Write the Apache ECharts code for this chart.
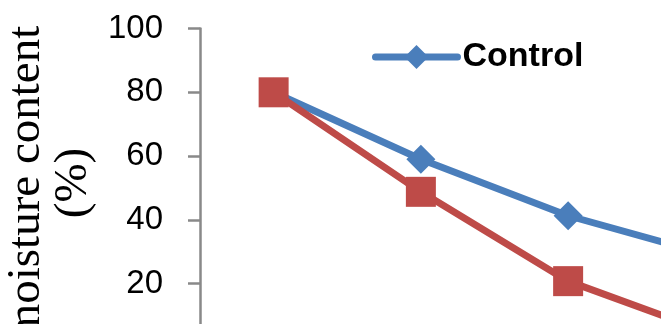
<!DOCTYPE html>
<html>
<head>
<meta charset="utf-8">
<style>
  html, body { margin: 0; padding: 0; background: #ffffff; }
  #chart { width: 661px; height: 324px; }
</style>
<script src="https://cdn.jsdelivr.net/npm/echarts@6/dist/echarts.min.js"></script>
</head>
<body>
<div id="chart"></div>
<script>
// Drying days and moisture content readings
const days = ['0', '1', '2', '3'];
const controlValues = [80, 59, 41.3, 28.4];
const treatedValues = [80, 48.8, 20.8, 4];
const yTicks = [0, 20, 40, 60, 80, 100];

const chart = echarts.init(document.getElementById('chart'), null, { renderer: 'canvas' });

chart.setOption({
  animation: false,
  backgroundColor: '#ffffff',
  grid: {
    left: 200,
    top: 28.5,
    right: -128,
    bottom: -23.5,
    containLabel: false,
    outerBoundsMode: 'none'
  },
  legend: {
    data: ['Control'],
    left: 372,
    top: 40,
    padding: 0,
    itemWidth: 82,
    itemHeight: 30,
    itemGap: 20,
    selectedMode: false,
    lineStyle: { width: 7, cap: 'round' },
    textStyle: {
      fontFamily: 'Liberation Sans, Arial, sans-serif',
      fontWeight: 'bold',
      fontSize: 34,
      color: '#000000'
    }
  },
  xAxis: {
    type: 'category',
    data: days,
    boundaryGap: true,
    axisLine: { show: false },
    axisTick: { show: false },
    axisLabel: { show: false }
  },
  yAxis: {
    type: 'value',
    min: yTicks[0],
    max: yTicks[yTicks.length - 1],
    interval: 20,
    name: 'moisture content\n(%)',
    nameLocation: 'middle',
    nameRotate: 90,
    nameGap: 83,
    nameTextStyle: {
      fontFamily: 'Liberation Serif, Times New Roman, serif',
      fontSize: 47,
      lineHeight: 47,
      color: '#000000',
      align: 'center',
      padding: [0, 0, 0, 10]
    },
    splitLine: { show: false },
    axisLine: { show: true, lineStyle: { color: '#898989', width: 2.5 } },
    axisTick: { show: true, inside: false, length: 12, lineStyle: { color: '#898989', width: 2.5 } },
    axisLabel: {
      margin: 37,
      fontFamily: 'Liberation Sans, Arial, sans-serif',
      fontSize: 33,
      color: '#000000',
      showMinLabel: false
    }
  },
  series: [
    {
      name: 'Control',
      type: 'line',
      data: controlValues,
      symbol: 'diamond',
      symbolSize: 29,
      color: '#4A7EBB',
      lineStyle: { width: 7, color: '#4A7EBB', cap: 'round' },
      itemStyle: { color: '#4A7EBB' },
      emphasis: { disabled: true },
      z: 3
    },
    {
      name: 'Treated',
      type: 'line',
      data: treatedValues,
      symbol: 'rect',
      symbolSize: 30,
      color: '#BE4B48',
      lineStyle: { width: 7, color: '#BE4B48', cap: 'round' },
      itemStyle: { color: '#BE4B48' },
      emphasis: { disabled: true },
      z: 4
    }
  ]
});
</script>
</body>
</html>
